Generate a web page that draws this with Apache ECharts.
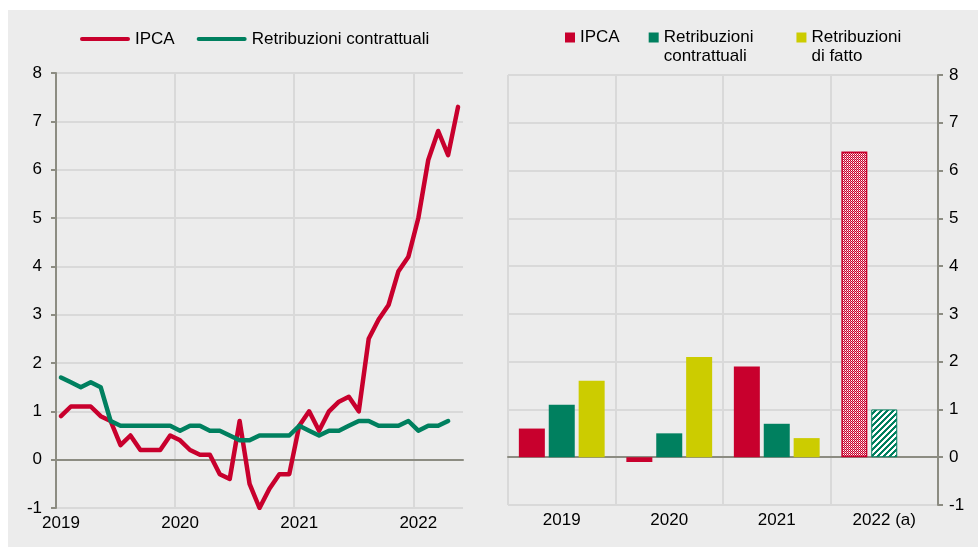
<!DOCTYPE html>
<html>
<head>
<meta charset="utf-8">
<script src="https://cdn.jsdelivr.net/npm/echarts@6/dist/echarts.min.js"></script>
<style>
html, body { margin: 0; padding: 0; background: #fff; }
#bg { position: absolute; left: 8px; top: 10px; width: 970px; height: 537px; background: #ececec; }
#chart { position: absolute; left: 0; top: 0; width: 978px; height: 547px; }
</style>
</head>
<body>
<div id="bg"></div>
<div id="chart"></div>
<script>
// monthly categories, gen 2019 - mag 2022
var years = [2019, 2020, 2021, 2022];
var months = [];
years.forEach(function (y) {
    for (var m = 1; m <= 12; m++) months.push(y + '-' + (m < 10 ? '0' + m : m));
});
months = months.slice(0, 41);

var ipcaMonthly = [0.9, 1.1, 1.1, 1.1, 0.9, 0.8, 0.3, 0.5, 0.2, 0.2, 0.2, 0.5,
    0.4, 0.2, 0.1, 0.1, -0.3, -0.4, 0.8, -0.5, -1.0, -0.6, -0.3, -0.3,
    0.7, 1.0, 0.6, 1.0, 1.2, 1.3, 1.0, 2.5, 2.9, 3.2, 3.9, 4.2,
    5.0, 6.2, 6.8, 6.3, 7.3];
var contrattualiMonthly = [1.7, 1.6, 1.5, 1.6, 1.5, 0.8, 0.7, 0.7, 0.7, 0.7, 0.7, 0.7,
    0.6, 0.7, 0.7, 0.6, 0.6, 0.5, 0.4, 0.4, 0.5, 0.5, 0.5, 0.5,
    0.7, 0.6, 0.5, 0.6, 0.6, 0.7, 0.8, 0.8, 0.7, 0.7, 0.7, 0.8,
    0.6, 0.7, 0.7, 0.8];

// annual bars
var annualCats = ['2019', '2020', '2021', '2022 (a)'];
var ipcaAnnual = [0.6, -0.1, 1.9, 6.4];
var contrattualiAnnual = [1.1, 0.5, 0.7, 1.0];
var fattoAnnual = [1.6, 2.1, 0.4, null];
var forecastCat = '2022 (a)';

var RED = '#c8002d', GREEN = '#00805f', YELLOW = '#cccc00';
var AXIS = '#8c8c82', GRID = '#d9d9d9';
var FONT = "'Liberation Sans', Arial, sans-serif";

function checkerPattern() {
    var c = document.createElement('canvas');
    c.width = 2; c.height = 2;
    var g = c.getContext('2d');
    g.fillStyle = RED;
    g.fillRect(0, 0, 2, 2);
    g.fillStyle = '#ffffff';
    g.fillRect(1, 0, 1, 1);
    g.fillStyle = '#ea8fa3';
    g.fillRect(0, 1, 1, 1);
    return c;
}
function stripePattern() {
    var c = document.createElement('canvas');
    c.width = 6; c.height = 6;
    var g = c.getContext('2d');
    g.fillStyle = '#ffffff';
    g.fillRect(0, 0, 6, 6);
    g.fillStyle = GREEN;
    for (var x = 0; x < 6; x++) {
        for (var y = 0; y < 6; y++) {
            if ((x + y) % 6 < 3) g.fillRect(x, y, 1, 1);
        }
    }
    return c;
}

function withForecast(values, style) {
    return values.map(function (v, i) {
        if (v === null) return '-';
        if (annualCats[i] === forecastCat) return { value: v, itemStyle: style };
        return v;
    });
}

var yearTick = function (idx) { return idx % 12 === 0; };
var txt = { color: '#000', fontFamily: FONT, fontSize: 17 };

var chart = echarts.init(document.getElementById('chart'));
chart.setOption({
    animation: false,
    textStyle: { fontFamily: FONT },
    legend: [{
        left: 80, top: 29, padding: 0,
        itemWidth: 50, itemHeight: 14, itemGap: 22,
        selectedMode: false,
        icon: 'path://M2,0L48,0A2,2,0,0,1,48,4L2,4A2,2,0,0,1,2,0Z',
        textStyle: { color: '#000', fontFamily: FONT, fontSize: 17, lineHeight: 20 },
        data: ['IPCA', 'Retribuzioni contrattuali']
    }, {
        left: 565, top: 9, padding: 0,
        itemWidth: 10, itemHeight: 10, itemGap: 29,
        selectedMode: false,
        icon: 'rect',
        // empty first line keeps the first text line level with the square
        formatter: function (name) { return name.indexOf('\n') >= 0 ? '\n' + name : name; },
        textStyle: { color: '#000', fontFamily: FONT, fontSize: 17, lineHeight: 19 },
        data: [
            { name: 'IPCA' },
            { name: 'Retribuzioni\ncontrattuali', textStyle: { padding: [0, 14, 0, 0] } },
            { name: 'Retribuzioni\ndi fatto' }
        ]
    }],
    grid: [
        { left: 56, top: 73, right: 515, bottom: 39 },
        { left: 508, top: 75, right: 40, bottom: 42 }
    ],
    xAxis: [{
        gridIndex: 0, type: 'category', data: months, position: 'bottom',
        axisLine: { show: false, onZero: false },
        axisTick: { show: false },
        axisLabel: Object.assign({ interval: yearTick, margin: 7,
            formatter: function (v) { return v.slice(0, 4); } }, txt),
        // the band end line is always added as 5th line: make it transparent
        splitLine: { show: true, interval: yearTick,
            lineStyle: { color: [GRID, GRID, GRID, GRID, 'rgba(0,0,0,0)'], width: 2 } }
    }, {
        gridIndex: 0, type: 'category', data: months, position: 'top',
        axisLine: { onZero: true, lineStyle: { color: AXIS, width: 2 } },
        axisTick: { inside: true, length: 4, interval: yearTick, lineStyle: { color: AXIS, width: 2 } },
        axisLabel: { show: false },
        splitLine: { show: false }
    }, {
        gridIndex: 1, type: 'category', data: annualCats, position: 'bottom',
        axisLine: { show: false, onZero: false },
        axisTick: { show: false },
        axisLabel: Object.assign({ margin: 7 }, txt),
        splitLine: { show: true, lineStyle: { color: GRID, width: 2 } }
    }, {
        gridIndex: 1, type: 'category', data: annualCats, position: 'top',
        axisLine: { onZero: true, lineStyle: { color: AXIS, width: 2 } },
        axisTick: { inside: true, length: 4, lineStyle: { color: AXIS, width: 2 } },
        axisLabel: { show: false },
        splitLine: { show: false }
    }],
    yAxis: [{
        gridIndex: 0, type: 'value', min: -1, max: 8, interval: 1, position: 'left',
        axisLine: { show: true, onZero: false, lineStyle: { color: AXIS, width: 2 } },
        axisTick: { show: true, length: 5, lineStyle: { color: AXIS, width: 2 } },
        axisLabel: Object.assign({ margin: 14 }, txt),
        splitLine: { lineStyle: { color: GRID, width: 2 } }
    }, {
        gridIndex: 1, type: 'value', min: -1, max: 8, interval: 1, position: 'right',
        axisLine: { show: true, onZero: false, lineStyle: { color: AXIS, width: 2 } },
        axisTick: { show: true, length: 5, lineStyle: { color: AXIS, width: 2 } },
        axisLabel: Object.assign({ margin: 11 }, txt),
        splitLine: { lineStyle: { color: GRID, width: 2 } }
    }],
    series: [{
        name: 'IPCA', type: 'line', xAxisIndex: 0, yAxisIndex: 0,
        data: ipcaMonthly, color: RED, symbol: 'none',
        lineStyle: { width: 4.5, cap: 'round', join: 'round' }
    }, {
        name: 'Retribuzioni contrattuali', type: 'line', xAxisIndex: 0, yAxisIndex: 0,
        data: contrattualiMonthly, color: GREEN, symbol: 'none',
        lineStyle: { width: 4.5, cap: 'round', join: 'round' }
    }, {
        name: 'IPCA', type: 'bar', xAxisIndex: 2, yAxisIndex: 1,
        barWidth: 26, barGap: '15%', color: RED,
        data: withForecast(ipcaAnnual, {
            color: { image: checkerPattern(), repeat: 'repeat' },
            borderColor: RED, borderWidth: 1.5
        })
    }, {
        name: 'Retribuzioni\ncontrattuali', type: 'bar', xAxisIndex: 2, yAxisIndex: 1,
        barWidth: 26, barGap: '15%', color: GREEN,
        data: withForecast(contrattualiAnnual, {
            color: { image: stripePattern(), repeat: 'repeat' },
            borderColor: GREEN, borderWidth: 1
        })
    }, {
        name: 'Retribuzioni\ndi fatto', type: 'bar', xAxisIndex: 2, yAxisIndex: 1,
        barWidth: 26, barGap: '15%', color: YELLOW,
        data: withForecast(fattoAnnual, {})
    }]
});
</script>
</body>
</html>
